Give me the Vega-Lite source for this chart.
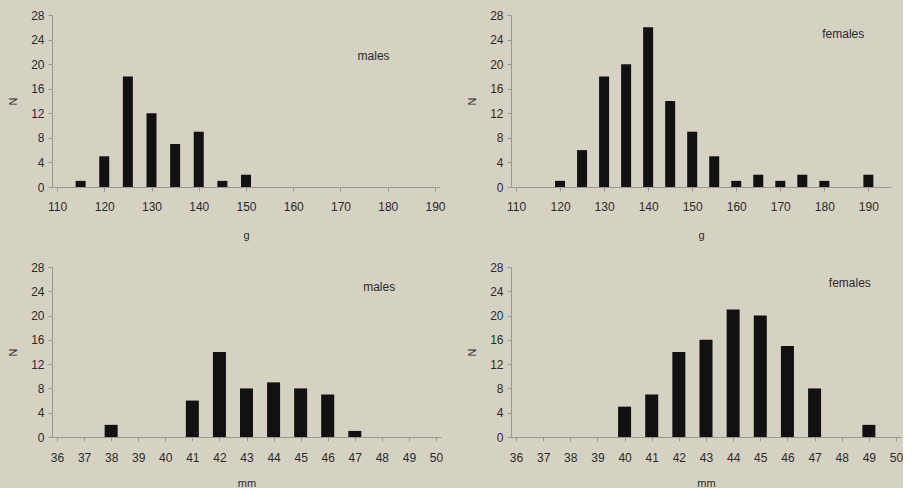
{
  "$schema": "https://vega.github.io/schema/vega-lite/v6.json",
  "background": "#d5d2c3",
  "padding": {"left": 7, "top": 9, "right": 0, "bottom": 0},
  "datasets": {
    "weightMales": [
      {"size": 110, "n": 0}, {"size": 115, "n": 1}, {"size": 120, "n": 5}, {"size": 125, "n": 18},
      {"size": 130, "n": 12}, {"size": 135, "n": 7}, {"size": 140, "n": 9}, {"size": 145, "n": 1},
      {"size": 150, "n": 2}, {"size": 155, "n": 0}, {"size": 160, "n": 0}, {"size": 165, "n": 0},
      {"size": 170, "n": 0}, {"size": 175, "n": 0}, {"size": 180, "n": 0}, {"size": 185, "n": 0},
      {"size": 190, "n": 0}
    ],
    "weightFemales": [
      {"size": 110, "n": 0}, {"size": 115, "n": 0}, {"size": 120, "n": 1}, {"size": 125, "n": 6},
      {"size": 130, "n": 18}, {"size": 135, "n": 20}, {"size": 140, "n": 26}, {"size": 145, "n": 14},
      {"size": 150, "n": 9}, {"size": 155, "n": 5}, {"size": 160, "n": 1}, {"size": 165, "n": 2},
      {"size": 170, "n": 1}, {"size": 175, "n": 2}, {"size": 180, "n": 1}, {"size": 185, "n": 0},
      {"size": 190, "n": 2}
    ],
    "lengthMales": [
      {"size": 36, "n": 0}, {"size": 37, "n": 0}, {"size": 38, "n": 2}, {"size": 39, "n": 0},
      {"size": 40, "n": 0}, {"size": 41, "n": 6}, {"size": 42, "n": 14}, {"size": 43, "n": 8},
      {"size": 44, "n": 9}, {"size": 45, "n": 8}, {"size": 46, "n": 7}, {"size": 47, "n": 1},
      {"size": 48, "n": 0}, {"size": 49, "n": 0}, {"size": 50, "n": 0}
    ],
    "lengthFemales": [
      {"size": 36, "n": 0}, {"size": 37, "n": 0}, {"size": 38, "n": 0}, {"size": 39, "n": 0},
      {"size": 40, "n": 5}, {"size": 41, "n": 7}, {"size": 42, "n": 14}, {"size": 43, "n": 16},
      {"size": 44, "n": 21}, {"size": 45, "n": 20}, {"size": 46, "n": 15}, {"size": 47, "n": 8},
      {"size": 48, "n": 0}, {"size": 49, "n": 2}, {"size": 50, "n": 0}
    ]
  },
  "config": {
    "view": {"stroke": null},
    "font": "Liberation Sans",
    "axis": {
      "labelFont": "Liberation Sans",
      "titleFont": "Liberation Sans",
      "labelFontSize": 12,
      "titleFontSize": 11,
      "titleFontWeight": "normal",
      "labelColor": "#2a2a2a",
      "titleColor": "#2a2a2a",
      "domainColor": "#9a9890",
      "tickColor": "#9a9890",
      "tickSize": 4,
      "grid": false,
      "labelOverlap": false
    },
    "axisY": {"labelPadding": 4, "titlePadding": 12},
    "text": {"font": "Liberation Sans", "fontSize": 12, "color": "#2a2a2a"},
    "bar": {"color": "#111111"}
  },
  "bounds": "flush",
  "columns": 2,
  "spacing": {"row": 80, "column": 70},
  "concat": [
    {
      "width": 388, "height": 172,
      "data": {"name": "weightMales"},
      "layer": [
        {
          "mark": {"type": "bar", "width": 10},
          "encoding": {
            "x": {"field": "size", "type": "quantitative", "scale": {"domain": [110, 190], "nice": false, "zero": false},
              "axis": {"title": "g", "values": [110, 120, 130, 140, 150, 160, 170, 180, 190], "labelPadding": 10, "titlePadding": 17}},
            "y": {"field": "n", "type": "quantitative", "scale": {"domain": [0, 28], "nice": false},
              "axis": {"title": "N", "values": [0, 4, 8, 12, 16, 20, 24, 28]}}
          }
        },
        {
          "data": {"values": [{"label": "males"}]},
          "mark": {"type": "text", "align": "center", "baseline": "middle"},
          "encoding": {
            "x": {"datum": 177, "type": "quantitative",
              "axis": {"title": "g", "values": [110, 120, 130, 140, 150, 160, 170, 180, 190], "labelPadding": 10, "titlePadding": 17}},
            "y": {"datum": 21.3, "type": "quantitative",
              "axis": {"title": "N", "values": [0, 4, 8, 12, 16, 20, 24, 28]}},
            "text": {"field": "label"}
          }
        }
      ]
    },
    {
      "width": 380, "height": 172,
      "data": {"name": "weightFemales"},
      "layer": [
        {
          "mark": {"type": "bar", "width": 10},
          "encoding": {
            "x": {"field": "size", "type": "quantitative", "scale": {"domain": [110, 194], "nice": false, "zero": false},
              "axis": {"title": "g", "values": [110, 120, 130, 140, 150, 160, 170, 180, 190], "labelPadding": 10, "titlePadding": 17}},
            "y": {"field": "n", "type": "quantitative", "scale": {"domain": [0, 28], "nice": false},
              "axis": {"title": "N", "values": [0, 4, 8, 12, 16, 20, 24, 28]}}
          }
        },
        {
          "data": {"values": [{"label": "females"}]},
          "mark": {"type": "text", "align": "center", "baseline": "middle"},
          "encoding": {
            "x": {"datum": 184.3, "type": "quantitative",
              "axis": {"title": "g", "values": [110, 120, 130, 140, 150, 160, 170, 180, 190], "labelPadding": 10, "titlePadding": 17}},
            "y": {"datum": 24.9, "type": "quantitative",
              "axis": {"title": "N", "values": [0, 4, 8, 12, 16, 20, 24, 28]}},
            "text": {"field": "label"}
          }
        }
      ]
    },
    {
      "width": 389, "height": 170,
      "data": {"name": "lengthMales"},
      "layer": [
        {
          "mark": {"type": "bar", "width": 13},
          "encoding": {
            "x": {"field": "size", "type": "quantitative", "scale": {"domain": [36, 50], "nice": false, "zero": false},
              "axis": {"title": "mm", "values": [36, 37, 38, 39, 40, 41, 42, 43, 44, 45, 46, 47, 48, 49, 50], "labelPadding": 11, "titlePadding": 14}},
            "y": {"field": "n", "type": "quantitative", "scale": {"domain": [0, 28], "nice": false},
              "axis": {"title": "N", "values": [0, 4, 8, 12, 16, 20, 24, 28]}}
          }
        },
        {
          "data": {"values": [{"label": "males"}]},
          "mark": {"type": "text", "align": "center", "baseline": "middle"},
          "encoding": {
            "x": {"datum": 47.9, "type": "quantitative",
              "axis": {"title": "mm", "values": [36, 37, 38, 39, 40, 41, 42, 43, 44, 45, 46, 47, 48, 49, 50], "labelPadding": 11, "titlePadding": 14}},
            "y": {"datum": 24.7, "type": "quantitative",
              "axis": {"title": "N", "values": [0, 4, 8, 12, 16, 20, 24, 28]}},
            "text": {"field": "label"}
          }
        }
      ]
    },
    {
      "width": 390, "height": 170,
      "data": {"name": "lengthFemales"},
      "layer": [
        {
          "mark": {"type": "bar", "width": 13},
          "encoding": {
            "x": {"field": "size", "type": "quantitative", "scale": {"domain": [36, 50], "nice": false, "zero": false},
              "axis": {"title": "mm", "values": [36, 37, 38, 39, 40, 41, 42, 43, 44, 45, 46, 47, 48, 49, 50], "labelPadding": 11, "titlePadding": 14}},
            "y": {"field": "n", "type": "quantitative", "scale": {"domain": [0, 28], "nice": false},
              "axis": {"title": "N", "values": [0, 4, 8, 12, 16, 20, 24, 28]}}
          }
        },
        {
          "data": {"values": [{"label": "females"}]},
          "mark": {"type": "text", "align": "center", "baseline": "middle"},
          "encoding": {
            "x": {"datum": 48.3, "type": "quantitative",
              "axis": {"title": "mm", "values": [36, 37, 38, 39, 40, 41, 42, 43, 44, 45, 46, 47, 48, 49, 50], "labelPadding": 11, "titlePadding": 14}},
            "y": {"datum": 25.4, "type": "quantitative",
              "axis": {"title": "N", "values": [0, 4, 8, 12, 16, 20, 24, 28]}},
            "text": {"field": "label"}
          }
        }
      ]
    }
  ]
}
